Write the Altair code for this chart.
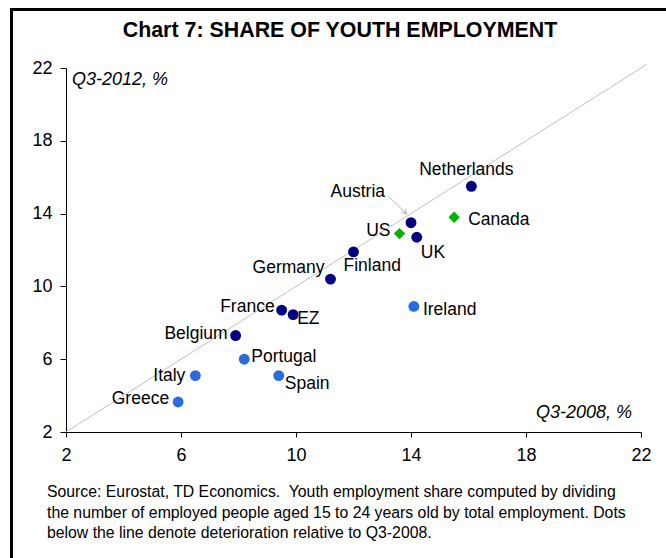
import altair as alt
import pandas as pd

# ---- data ----
countries = ["Netherlands", "Canada", "Austria", "US", "UK", "Finland", "Germany",
             "France", "EZ", "Belgium", "Portugal", "Spain", "Italy", "Greece", "Ireland"]
q3_2008 = [16.1, 15.5, 14.0, 13.6, 14.2, 12.0, 11.2, 9.5, 9.9, 7.9, 8.2, 9.4, 6.5, 5.9, 14.1]
q3_2012 = [15.5, 13.8, 13.5, 12.9, 12.7, 11.9, 10.4, 8.7, 8.45, 7.3, 6.0, 5.1, 5.1, 3.65, 8.9]
groups = ["dark", "green", "dark", "green", "dark", "dark", "dark",
          "dark", "dark", "dark", "light", "light", "light", "light", "light"]
diag = [2, 22.2]
ticks = [2, 6, 10, 14, 18, 22]

title_text = "Chart 7: SHARE OF YOUTH EMPLOYMENT"
y_title = "Q3-2012, %"
x_title = "Q3-2008, %"
foot = ["Source: Eurostat, TD Economics.\u00a0 Youth employment share computed by dividing",
        "the number of employed people aged 15 to 24 years old by total employment. Dots",
        "below the line denote deterioration relative to Q3-2008."]

df = pd.DataFrame({"country": countries, "x": q3_2008, "y": q3_2012, "g": groups})
ddf = pd.DataFrame({"x": diag, "y": diag})

# ---- styles ----
FONT = "Liberation Sans"
W, H = 575, 364
colors = {"dark": "#000080", "light": "#2b6be0", "green": "#00b400"}
# label placement: (align, dx, dy)
label_style = {
    "Netherlands": ("center", -5, -16), "Canada": ("left", 14, 3),
    "Austria": ("right", -26, -31), "US": ("right", -9, -3), "UK": ("left", 4, 16),
    "Finland": ("left", -10, 14), "Germany": ("right", -6, -11),
    "France": ("right", -7, -3), "EZ": ("left", 4, 4), "Belgium": ("right", -8, -2),
    "Portugal": ("left", 7, -2), "Spain": ("left", 6, 8), "Italy": ("right", -10, 0),
    "Greece": ("right", -9, -3), "Ireland": ("left", 9, 4),
}

xs = alt.Scale(domain=[2, 22], nice=False, zero=False)
ys = alt.Scale(domain=[2, 22], nice=False, zero=False)
X = alt.X("x:Q", scale=xs, axis=alt.Axis(values=ticks, title=None, grid=False, tickSize=5,
                                         labelPadding=9, labelFlush=False, labelFontSize=18))
Y = alt.Y("y:Q", scale=ys, axis=alt.Axis(values=ticks, title=None, grid=False, tickSize=6,
                                         labelPadding=8, labelFontSize=18))

diag_line = alt.Chart(ddf).mark_line(color="#c0c0c0", strokeWidth=1).encode(x=X, y=Y)

base = alt.Chart(df)
dots = base.transform_filter(alt.datum.g != "green").mark_circle(size=118, opacity=1).encode(
    x=X, y=Y,
    color=alt.Color("g:N", scale=alt.Scale(domain=list(colors), range=list(colors.values())), legend=None))
diamonds = base.transform_filter(alt.datum.g == "green").mark_point(
    shape="diamond", size=130, filled=True, opacity=1, color=colors["green"]).encode(x=X, y=Y)

austria = base.transform_filter(alt.datum.country == "Austria").transform_calculate(
    x1="datum.x - 0.77", y1="datum.y + 1.43", x2b="datum.x - 0.15", y2b="datum.y + 0.48")
arrow = austria.mark_rule(color="#a0a0a0", strokeWidth=0.8).encode(
    x=alt.X("x1:Q", scale=xs), y=alt.Y("y1:Q", scale=ys), x2="x2b:Q", y2="y2b:Q")
arrow_head = austria.mark_point(
    shape="M-1,-0.35L0,0L-0.35,-1", size=90, filled=False, stroke="#a0a0a0",
    strokeWidth=0.8, opacity=1).encode(x=alt.X("x2b:Q", scale=xs), y=alt.Y("y2b:Q", scale=ys))

labels = []
for c, (al, dx, dy) in label_style.items():
    labels.append(base.transform_filter(alt.datum.country == c).mark_text(
        align=al, baseline="middle", dx=dx, dy=dy, font=FONT, fontSize=17.5, color="black"
    ).encode(x=X, y=Y, text="country:N"))

def txt(t, x, y, align="left", size=17.5, weight="normal", style="normal"):
    return alt.Chart(pd.DataFrame({"t": [t]})).mark_text(
        align=align, baseline="middle", font=FONT, fontSize=size, fontWeight=weight,
        fontStyle=style, color="black").encode(x=alt.value(x), y=alt.value(y), text="t:N")

title = txt(title_text, 274, -37, align="center", size=21.4, weight="bold")
ylab = txt(y_title, 6, 12, style="italic", size=18)
xlab = txt(x_title, 566, 345, align="right", size=18, style="italic")
foots = [txt(line, -19, 424 + i * 20.5, size=15.8) for i, line in enumerate(foot)]

border = alt.Chart(pd.DataFrame({"a": [0]})).mark_rect(
    fill=None, stroke="black", strokeWidth=3).encode(
    x=alt.value(-54.5), y=alt.value(-58.5), x2=alt.value(700), y2=alt.value(600))

chart = alt.layer(border, diag_line, arrow, arrow_head, dots, diamonds, *labels, title, ylab, xlab,
                  *foots).properties(
    width=W, height=H, autosize=alt.AutoSizeParams(type="none"),
    padding={"left": 66, "top": 68, "right": 25, "bottom": 126},
    background="white"
).configure_view(stroke=None).configure_axis(
    domainColor="black", tickColor="black", labelColor="black", labelFont=FONT,
    labelFontSize=18, domainWidth=1, tickWidth=1
)

chart.save("out.html", embed_options={"renderer": "svg", "actions": False})
